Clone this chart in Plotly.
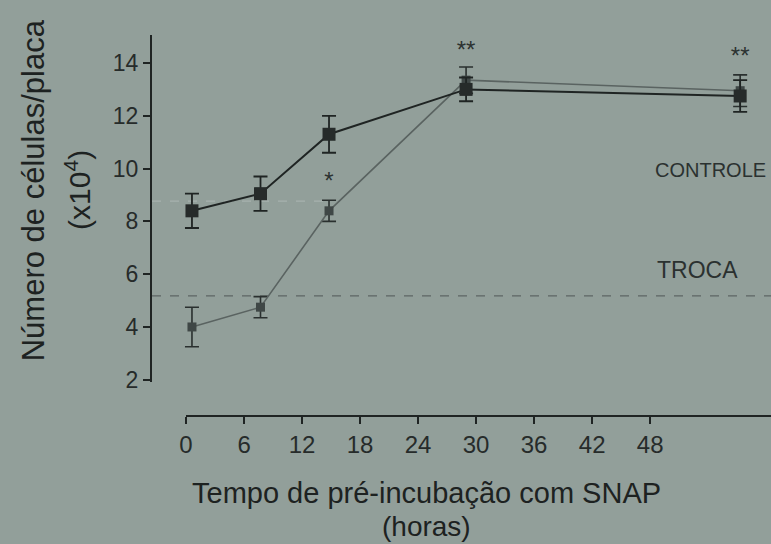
import plotly.graph_objects as go

# ---- data ----
horas = [0, 6, 12, 24, 48]
controle = [8.4, 9.05, 11.3, 13.0, 12.75]
controle_err = [0.65, 0.65, 0.7, 0.45, 0.6]
troca = [4.0, 4.75, 8.4, 13.35, 12.95]
troca_err = [0.75, 0.4, 0.4, 0.5, 0.6]

x_ticks = [0, 6, 12, 18, 24, 30, 36, 42, 48]
y_ticks = [2, 4, 6, 8, 10, 12, 14]

sig_x = [12, 24, 48]
sig_y = [9.45, 14.4, 14.2]
sig_text = ["*", "**", "**"]

troca_base = 5.18
controle_base = 8.77

labels = ["CONTROLE", "TROCA"]
label_x = [45.4, 44.3]
label_y = [9.95, 6.16]
label_size = [20, 23]

BG = "#929f9a"
INK = "#1f2423"
FONT = "Liberation Sans, Arial, sans-serif"

fig = go.Figure()

# reference (baseline) lines
fig.add_trace(go.Scatter(x=[-3.5, 50.7], y=[troca_base, troca_base], mode="lines",
                         line=dict(color="#5d6664", width=1.3, dash="dash"),
                         hoverinfo="skip", showlegend=False))
fig.add_trace(go.Scatter(x=[-3.5, 12], y=[controle_base, controle_base], mode="lines",
                         line=dict(color="#a7b2ae", width=1.2, dash="dash"),
                         hoverinfo="skip", showlegend=False))

fig.add_trace(go.Scatter(
    x=horas, y=troca, mode="lines+markers", name="TROCA",
    line=dict(color="#5a6361", width=1.6),
    marker=dict(symbol="square", size=9, color="#3f4746"),
    error_y=dict(type="data", array=troca_err, color="#2a302f", thickness=1.6, width=7),
    showlegend=False))

fig.add_trace(go.Scatter(
    x=horas, y=controle, mode="lines+markers", name="CONTROLE",
    line=dict(color=INK, width=2),
    marker=dict(symbol="square", size=13, color="#262b2a"),
    error_y=dict(type="data", array=controle_err, color=INK, thickness=1.8, width=7),
    showlegend=False))

fig.add_trace(go.Scatter(
    x=sig_x, y=sig_y, mode="text", text=sig_text,
    textfont=dict(family=FONT, size=24, color="#2c3231"),
    hoverinfo="skip", showlegend=False))

# visible bottom tick axis (own scale, as drawn in the reference)
fig.add_trace(go.Scatter(x=[0, 48], y=[None, None], xaxis="x2", yaxis="y3",
                         mode="markers", hoverinfo="skip", showlegend=False))

for t, lx, ly, s in zip(labels, label_x, label_y, label_size):
    fig.add_annotation(x=lx, y=ly, text=t, showarrow=False, xref="x", yref="y",
                       font=dict(family=FONT, size=s, color="#2b3130"))

fig.update_layout(
    width=771, height=544,
    paper_bgcolor=BG, plot_bgcolor="rgba(0,0,0,0)",
    margin=dict(l=152, r=0, t=35, b=124),
    xaxis=dict(range=[-3.5, 50.7], visible=False, domain=[0, 1]),
    xaxis2=dict(range=[0, 60.5], domain=[0.055, 1], anchor="free", position=0.01,
                side="bottom",
                tickvals=x_ticks, ticktext=[str(v) for v in x_ticks],
                showline=True, linecolor=INK, linewidth=2,
                ticks="outside", ticklen=7, tickwidth=1.5, tickcolor=INK,
                showgrid=False, zeroline=False,
                tickfont=dict(family=FONT, size=24, color="#262b2a")),
    yaxis3=dict(range=[0, 1], domain=[0.099, 1], anchor="x2", visible=False),
    yaxis=dict(range=[1.92, 15.06], domain=[0.099, 1],
               tickvals=y_ticks, showline=True, linecolor=INK, linewidth=2,
               ticks="outside", ticklen=7, tickwidth=1.5, tickcolor=INK,
               showgrid=False, zeroline=False,
               tickfont=dict(family=FONT, size=23, color="#262b2a")),
)

fig.add_annotation(x=-0.192, y=0.597, xref="paper", yref="paper", textangle=-90,
                   xanchor="center", yanchor="middle",
                   text="Número de células/placa", showarrow=False,
                   font=dict(family=FONT, size=31, color="#1d2221"))
fig.add_annotation(x=-0.12, y=0.597, xref="paper", yref="paper", textangle=-90,
                   xanchor="center", yanchor="middle",
                   text="(x10<sup>4</sup>)", showarrow=False,
                   font=dict(family=FONT, size=30, color="#1d2221"))
fig.add_annotation(x=0.444, y=-0.19, xref="paper", yref="paper",
                   xanchor="center", yanchor="middle",
                   text="Tempo de pré-incubação com SNAP", showarrow=False,
                   font=dict(family=FONT, size=29, color="#1d2221"))
fig.add_annotation(x=0.444, y=-0.277, xref="paper", yref="paper",
                   xanchor="center", yanchor="middle",
                   text="(horas)", showarrow=False,
                   font=dict(family=FONT, size=28, color="#1d2221"))

fig.write_html("out.html", config={"displayModeBar": False},
               post_script="document.body.style.margin='0';document.body.style.background='%s';" % BG)
